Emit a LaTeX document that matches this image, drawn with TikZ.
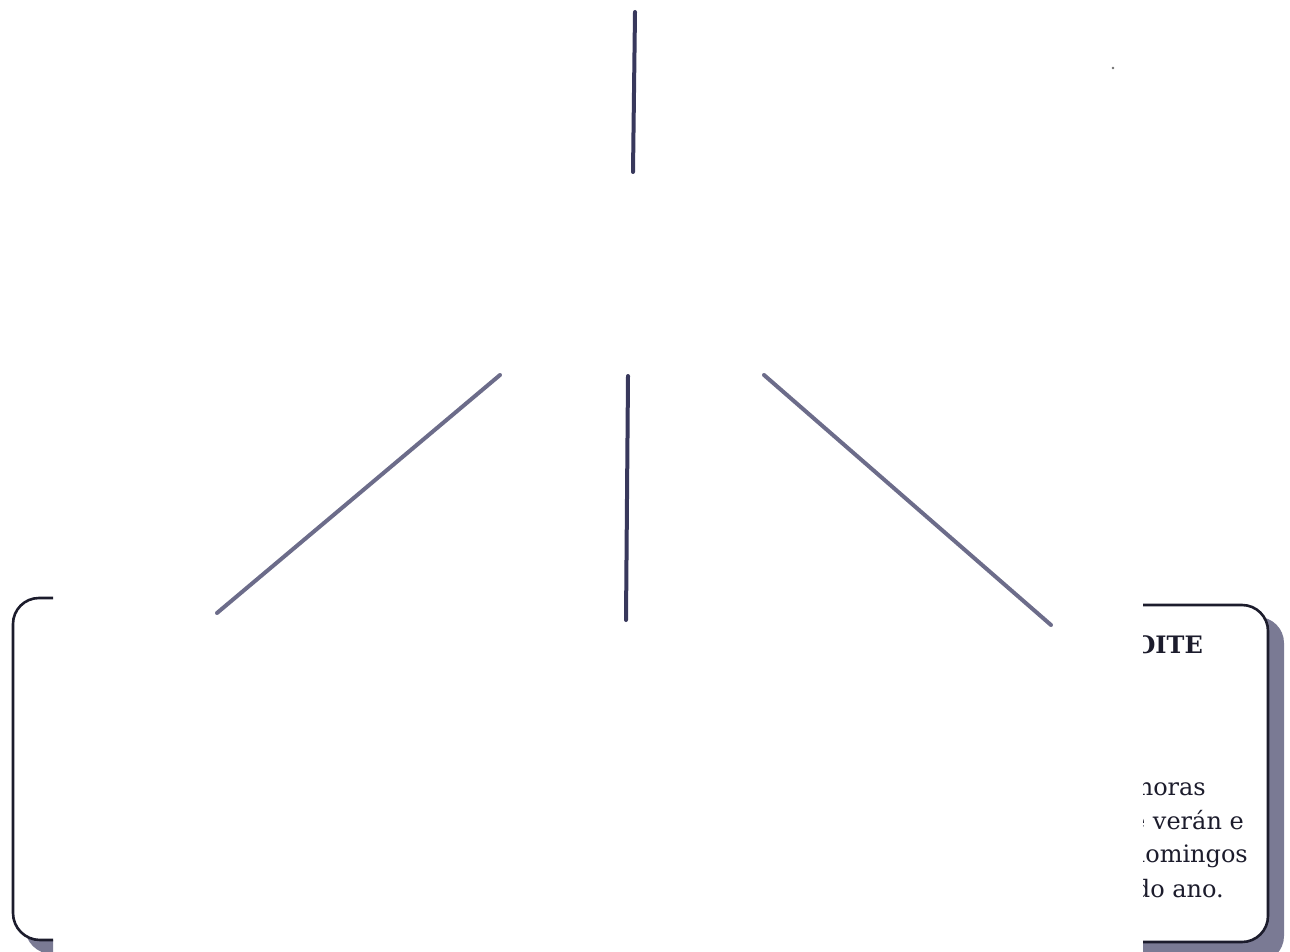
\documentclass[tikz,border=0pt]{standalone}
\usepackage{fontspec}
\setmainfont{DejaVu Serif}
\definecolor{lnA}{RGB}{56,56,92}
\definecolor{lnB}{RGB}{108,108,138}
\definecolor{edge}{RGB}{28,28,44}
\definecolor{shadowc}{RGB}{122,122,148}
\definecolor{speck}{RGB}{110,110,110}
\begin{document}
\begin{tikzpicture}[x=1pt,y=-1pt,
  branch/.style={line width=4pt,line cap=round},
  frame/.style={draw=edge,line width=2.6pt,fill=white,rounded corners=26pt},
  leftframe/.style={draw=edge,line width=2.6pt},
  shadowbox/.style={fill=shadowc,rounded corners=26pt},
  body/.style={font=\fontsize{24}{28}\selectfont,anchor=base east,inner sep=0pt,text=edge},
  head/.style={font=\bfseries\fontsize{24}{28}\selectfont,anchor=base east,inner sep=0pt,text=edge}]
\useasboundingbox (0,0) rectangle (1290,952);

% connector end points
\coordinate (topA) at (635,12);
\coordinate (topB) at (633,172);
\coordinate (midA) at (628,376);
\coordinate (midB) at (626,620);
\coordinate (leftA) at (500,375);
\coordinate (leftB) at (217,613);
\coordinate (rightA) at (764,375);
\coordinate (rightB) at (1051,625);

\draw[branch,draw=lnA] (topA) -- (topB);
\draw[branch,draw=lnA] (midA) -- (midB);
\draw[branch,draw=lnB] (leftA) -- (leftB);
\draw[branch,draw=lnB] (rightA) -- (rightB);

% speck
\fill[speck] (1113,68) circle (1.4);

% left box (partly visible)
\begin{scope}
  \clip (0,0) rectangle (53,952);
  \begin{scope}
    \clip (0,900) -- (13,900) -- (13,913) arc[start angle=180,end angle=90,radius=27]
       -- (60,940) -- (60,960) -- (0,960) -- cycle;
    \fill[fill=shadowc,shift={(12,14)}] (80,598) -- (39,598) arc[start angle=270,end angle=180,radius=26]
       -- (13,913) arc[start angle=180,end angle=90,radius=27] -- (80,940) -- cycle;
  \end{scope}
  \draw[leftframe] (80,598) -- (39,598) arc[start angle=270,end angle=180,radius=26]
     -- (13,913) arc[start angle=180,end angle=90,radius=27] -- (80,940);
\end{scope}

% right box (partly visible)
\begin{scope}
  \clip (1143,0) rectangle (1290,952);
  \fill[shadowbox] (915,617) rectangle (1284,962);
  \draw[frame] (900,605) rectangle (1268,942);
  \node[head] (t0) at (1203,653) {NOITE};
  \node[body] (t1) at (1206,795) {horas};
  \node[body] (t2) at (1244,829) {de verán e};
  \node[body] (t3) at (1248,862) {domingos};
  \node[body] (t4) at (1224,897) {do ano.};
\end{scope}
\end{tikzpicture}
\end{document}
